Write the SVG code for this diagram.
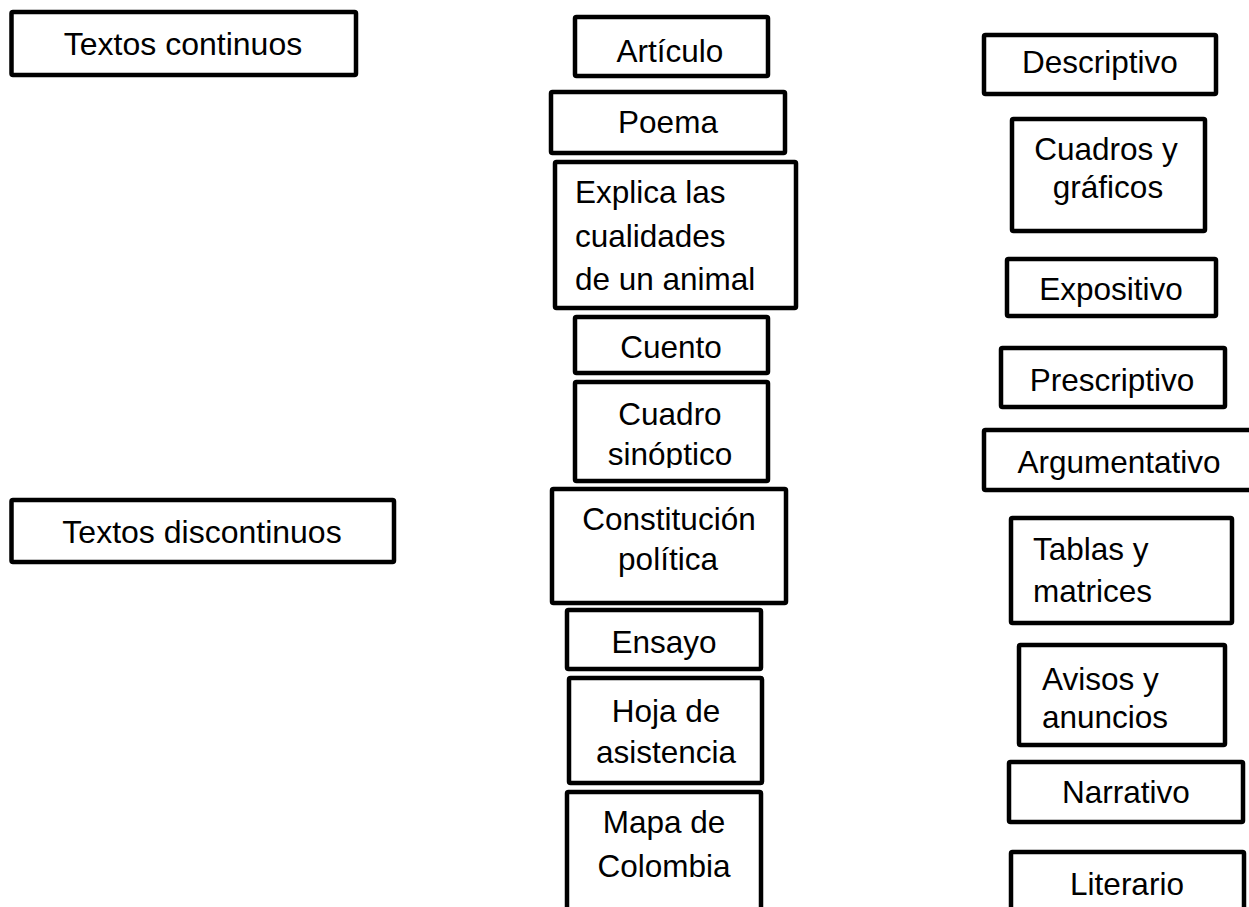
<svg xmlns="http://www.w3.org/2000/svg" width="1249" height="907" viewBox="0 0 1249 907">
<style>
rect.b{fill:#fff;stroke:#000;stroke-width:4.5;stroke-linejoin:round}
text{font-family:"Liberation Sans",Arial,sans-serif;font-size:31.5px;fill:#000}
.c{text-anchor:middle}
</style>
<defs>
<clipPath id="clipSin"><rect x="560" y="380" width="220" height="88"/></clipPath>
</defs>
<rect width="1249" height="907" fill="#fff"/>
<g id="connectors"></g>
<g id="n-continuos"><rect class="b" x="11.5" y="12" width="344.5" height="63" rx="1.5"/><text class="c" x="183" y="55" style="font-size:32px">Textos continuos</text></g>
<g id="n-discontinuos"><rect class="b" x="11.5" y="500" width="382.5" height="62" rx="1.5"/><text class="c" x="202" y="543" style="font-size:32px">Textos discontinuos</text></g>
<g id="n-articulo"><rect class="b" x="575" y="17" width="193" height="59" rx="1.5"/><text class="c" x="670" y="62">Artículo</text></g>
<g id="n-poema"><rect class="b" x="551" y="92" width="234" height="61" rx="1.5"/><text class="c" x="668" y="133">Poema</text></g>
<g id="n-explica"><rect class="b" x="555" y="162" width="241" height="146" rx="1.5"/><text x="575" y="203">Explica las</text><text x="575" y="247">cualidades</text><text x="575" y="290">de un animal</text></g>
<g id="n-cuento"><rect class="b" x="575" y="317" width="193" height="56" rx="1.5"/><text class="c" x="671" y="358">Cuento</text></g>
<g id="n-cuadro"><rect class="b" x="575" y="382" width="193" height="99" rx="1.5"/><text class="c" x="670" y="425">Cuadro</text><text class="c" x="670" y="465" clip-path="url(#clipSin)">sinóptico</text></g>
<g id="n-constitucion"><rect class="b" x="552" y="489" width="234" height="114" rx="1.5"/><text class="c" x="669" y="530">Constitución</text><text class="c" x="668" y="570">política</text></g>
<g id="n-ensayo"><rect class="b" x="567" y="610" width="194" height="59" rx="1.5"/><text class="c" x="664" y="653">Ensayo</text></g>
<g id="n-hoja"><rect class="b" x="569" y="678" width="193" height="105" rx="1.5"/><text class="c" x="666" y="722">Hoja de</text><text class="c" x="666" y="763">asistencia</text></g>
<g id="n-mapa"><rect class="b" x="567" y="792" width="194" height="130" rx="1.5"/><text class="c" x="664" y="833">Mapa de</text><text class="c" x="664" y="877">Colombia</text></g>
<g id="n-descriptivo"><rect class="b" x="984" y="35" width="232" height="59" rx="1.5"/><text class="c" x="1100" y="73">Descriptivo</text></g>
<g id="n-cuadros"><rect class="b" x="1012" y="119" width="193" height="112" rx="1.5"/><text class="c" x="1106" y="160">Cuadros y</text><text class="c" x="1108" y="198">gráficos</text></g>
<g id="n-expositivo"><rect class="b" x="1007" y="259" width="209" height="57" rx="1.5"/><text class="c" x="1111" y="300">Expositivo</text></g>
<g id="n-prescriptivo"><rect class="b" x="1001" y="348" width="224" height="59" rx="1.5"/><text class="c" x="1112" y="391">Prescriptivo</text></g>
<g id="n-argumentativo"><rect class="b" x="984" y="430" width="290" height="60" rx="1.5"/><text class="c" x="1119" y="473">Argumentativo</text></g>
<g id="n-tablas"><rect class="b" x="1011" y="518" width="221" height="105" rx="1.5"/><text x="1033" y="560">Tablas y</text><text x="1033" y="602">matrices</text></g>
<g id="n-avisos"><rect class="b" x="1019" y="645" width="206" height="100" rx="1.5"/><text x="1042" y="690">Avisos y</text><text x="1042" y="728">anuncios</text></g>
<g id="n-narrativo"><rect class="b" x="1009" y="762" width="234" height="60" rx="1.5"/><text class="c" x="1126" y="803">Narrativo</text></g>
<g id="n-literario"><rect class="b" x="1011" y="852" width="233" height="80" rx="1.5"/><text class="c" x="1127" y="895">Literario</text></g>
</svg>
